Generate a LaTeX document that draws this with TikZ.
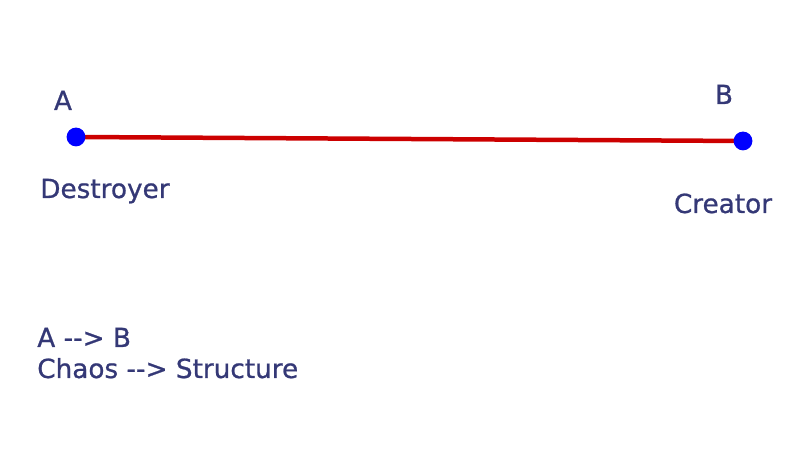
\documentclass[tikz,border=0pt]{standalone}
\usepackage{fontspec}
\setmainfont{DejaVu Sans}
\newfontfamily\labelfont[FakeBold=0.8]{DejaVu Sans}
\definecolor{lineRed}{RGB}{204,0,0}
\definecolor{dotBlue}{RGB}{0,0,255}
\definecolor{labelInk}{RGB}{52,56,118}
\tikzset{
    dot/.style = {circle, fill = dotBlue, inner sep = 0pt, minimum size = 0.47cm},
    label text/.style = {text = labelInk, inner sep = 0pt, font = \labelfont\fontsize{18.7}{22}\selectfont},
}

\begin{document}
\begin{tikzpicture}
    \useasboundingbox (0,0) rectangle (20,11.5);

    \coordinate (pA) at (1.9, 8.075);
    \coordinate (pB) at (18.575, 7.975);

    \draw[lineRed, line width = 3.2pt] (pA) -- (pB);

    \node[dot] (A) at (pA) {};
    \node[dot] (B) at (pB) {};

    \node[label text, anchor = base] (nameA) at (1.575, 8.75) {A};
    \node[label text, anchor = base] (nameB) at (18.1, 8.9) {B};

    \node[label text, anchor = base west] (destroyer) at (1.0, 6.55) {Destroyer};
    \node[label text, anchor = base] (creator) at (18.075, 6.175) {Creator};

    \node[label text, anchor = base west] (rule) at (0.925, 2.825) {A -{}-> B};
    \node[label text, anchor = base west] (ruleText) at (0.925, 2.05) {Chaos -{}-> Structure};
\end{tikzpicture}
\end{document}
